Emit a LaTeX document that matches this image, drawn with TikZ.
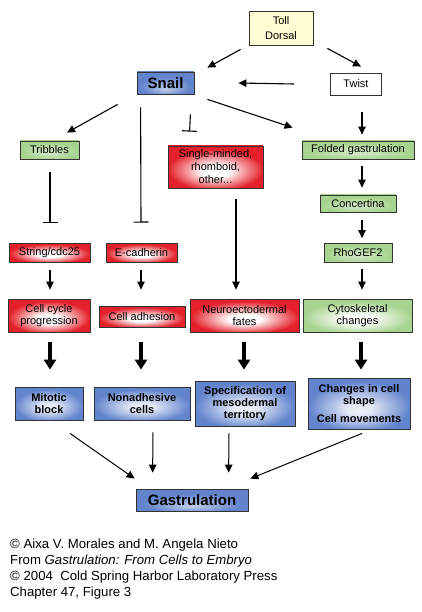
\documentclass[tikz,border=0pt]{standalone}
\usepackage{fontspec}
\setmainfont{Liberation Sans}
\usetikzlibrary{arrows.meta,calc}
\definecolor{myred}{RGB}{228,32,42}
\definecolor{myblue}{RGB}{98,132,205}
\definecolor{mygreen}{RGB}{166,211,142}
\definecolor{myyellow}{RGB}{255,251,210}
\pgfdeclareradialshading{redsh}{\pgfpoint{0bp}{-6bp}}{color(0bp)=(white); color(7bp)=(white); color(25bp)=(myred); color(50bp)=(myred)}
\pgfdeclareradialshading{bluesh}{\pgfpoint{0bp}{-6bp}}{color(0bp)=(white!88!myblue); color(6bp)=(white!82!myblue); color(25bp)=(myblue); color(50bp)=(myblue)}
\pgfdeclareradialshading{bluesnail}{\pgfpoint{0bp}{-14bp}}{color(0bp)=(white!60!myblue); color(22bp)=(myblue); color(50bp)=(myblue)}
\pgfdeclareradialshading{greensh}{\pgfpoint{0bp}{-6bp}}{color(0bp)=(white!55!mygreen); color(24bp)=(mygreen); color(50bp)=(mygreen)}
\pgfdeclareradialshading{greenwh}{\pgfpoint{0bp}{-6bp}}{color(0bp)=(white); color(6bp)=(white); color(25bp)=(mygreen); color(50bp)=(mygreen)}
\tikzset{
  x=1pt, y=-1pt,
  box/.style={draw=black!80, line width=0.8pt, inner sep=1pt, align=center,
    font=\fontsize{11}{12.5}\selectfont},
  redbox/.style={box, shading=redsh},
  bluebox/.style={box, shading=bluesh, font=\fontsize{11}{12}\selectfont\bfseries},
  greenbox/.style={box, shading=greensh},
  arr/.style={-{Triangle[length=8pt,width=7.5pt]}, line width=1.1pt},
  inh/.style={-{Bar[width=15pt]}, line width=1.1pt},
  fat/.style={-{Triangle[length=10pt,width=12pt]}, line width=4pt},
  fin/.style={-{Triangle[length=8pt,width=7.5pt]}, line width=1pt},
}
\begin{document}
\begin{tikzpicture}
\useasboundingbox[fill=white] (0,0) rectangle (422,612);

% nodes
\node[box, fill=myyellow, minimum width=64, minimum height=34, font=\fontsize{11}{15.5}\selectfont] (toll) at (281,28) {Toll\\Dorsal};
\node[box, shading=bluesnail, minimum width=57, minimum height=22, font=\fontsize{15}{18}\selectfont\bfseries] (snail) at (165.5,83) {Snail};
\node[box, fill=white, minimum width=51, minimum height=22] (twist) at (356,84) {Twist};
\node[greenbox, minimum width=59, minimum height=18] (tribbles) at (49.5,150) {Tribbles};
\node[redbox, minimum width=95, minimum height=42, font=\fontsize{11}{13}\selectfont] (single) at (215.5,167) {Single-minded,\\rhomboid,\\other...};
\node[greenbox, minimum width=112, minimum height=18] (folded) at (358,150) {Folded gastrulation};
\node[greenbox, minimum width=76, minimum height=17] (conc) at (358,203.5) {Concertina};
\node[greenbox, minimum width=68, minimum height=19] (rho) at (358,253) {RhoGEF2};
\node[redbox, minimum width=81, minimum height=19] (string) at (49.5,252.5) {String/cdc25};
\node[redbox, minimum width=71, minimum height=19] (ecad) at (141.5,252.5) {E-cadherin};
\node[redbox, minimum width=82, minimum height=33, font=\fontsize{11}{11.7}\selectfont] (cc) at (49,315.5) {Cell cycle\\progression};
\node[redbox, minimum width=86, minimum height=21] (ca) at (142,316.5) {Cell adhesion};
\node[redbox, minimum width=109, minimum height=33, font=\fontsize{11}{11.7}\selectfont] (neuro) at (244.5,315.5) {Neuroectodermal\\fates};
\node[box, shading=greenwh, minimum width=109, minimum height=33, font=\fontsize{11}{11.7}\selectfont] (cyto) at (357.5,315.5) {Cytoskeletal\\changes};
\node[bluebox, minimum width=68, minimum height=33] (mb) at (49,403.5) {Mitotic\\block};
\node[bluebox, minimum width=96, minimum height=33] (nonadh) at (142,403.5) {Nonadhesive\\cells};
\node[bluebox, minimum width=100, minimum height=45, font=\fontsize{11}{11.7}\selectfont\bfseries] (spec) at (245,403.5) {Specification of\\mesodermal\\territory};
\node[bluebox, minimum width=102, minimum height=51, font=\fontsize{11}{11.7}\selectfont\bfseries] (changes) at (359,403.5) {Changes in cell\\shape\\[6pt]Cell movements};
\node[box, shading=bluesnail, minimum width=112, minimum height=22, font=\fontsize{15}{18}\selectfont\bfseries] (gastr) at (192,500) {Gastrulation};

% connectors
\draw[arr] ($(toll.south west)+(-8,4)$) -- ($(snail.north east)+(13,-4)$);
\draw[arr] ($(toll.south east)+(14,3)$) -- ($(twist.north)+(5,-6)$);
\draw[arr] ($(twist.west)+(-36,0)$) -- ($(snail.east)+(44,0)$);
\draw[arr] ($(snail.south west)+(-19,10)$) -- ($(tribbles.north)+(17.5,-8)$);
\draw[inh] ($(snail.south west)+(4,13)$) -- ($(ecad.north)+(-0.5,-20)$);
\draw[inh] ($(snail.south east)+(-4,20)$) -- ($(single.north west)+(22,-14)$);
\draw[arr] ($(snail.south east)+(13,5)$) -- ($(folded.north west)+(-9,-13)$);
\draw[arr] ($(twist.south)+(6,17)$) -- ($(folded.north)+(4,-6)$);
\draw[inh] ($(tribbles.south)+(0.5,13)$) -- ($(string.north)+(0.5,-20)$);
\draw[arr] ($(folded.south)+(4,7)$) -- ($(conc.north)+(4,-7)$);
\draw[arr] ($(conc.south)+(4,8)$) -- ($(rho.north)+(4,-5)$);
\draw[arr] ($(rho.south)+(4,6)$) -- ($(cyto.north)+(4.5,-9)$);
\draw[arr] ($(string.south)+(0.5,8)$) -- ($(cc.north)+(1,-9)$);
\draw[arr] ($(ecad.south)+(-0.5,8)$) -- ($(ca.north)+(-1,-16)$);
\draw[arr] ($(single.south)+(20.5,11)$) -- ($(neuro.north)+(-8.5,-9)$);

\draw[fat] ($(cc.south)+(1,10)$) -- ($(mb.north)+(1,-17)$);
\draw[fat] ($(ca.south)+(-1,15)$) -- ($(nonadh.north)+(-1,-17)$);
\draw[fat] ($(neuro.south)+(-0.5,10)$) -- ($(spec.north)+(-1,-11)$);
\draw[fat] ($(cyto.south)+(3.5,10)$) -- ($(changes.north)+(2,-8)$);

\draw[fin] ($(mb.south)+(21,13)$) -- ($(gastr.north west)+(-1,-10)$);
\draw[fin] ($(nonadh.south)+(11,12)$) -- ($(gastr.north west)+(17,-16)$);
\draw[fin] ($(spec.south)+(-16,7)$) -- ($(gastr.north west)+(93,-16)$);
\draw[fin] ($(changes.south)+(3,4)$) -- ($(gastr.north east)+(2,-10)$);

% credits
\begin{scope}[every node/.style={anchor=base west, inner sep=0pt, font=\fontsize{13.2}{15}\selectfont}]
\node (c1) at (10,548) {© Aixa V. Morales and M. Angela Nieto};
\node (c2) at (10,564) {From \textit{Gastrulation: From Cells to Embryo}};
\node (c3) at (10,580) {© 2004\ \ Cold Spring Harbor Laboratory Press};
\node (c4) at (10,596) {Chapter 47, Figure 3};
\end{scope}
\end{tikzpicture}
\end{document}
